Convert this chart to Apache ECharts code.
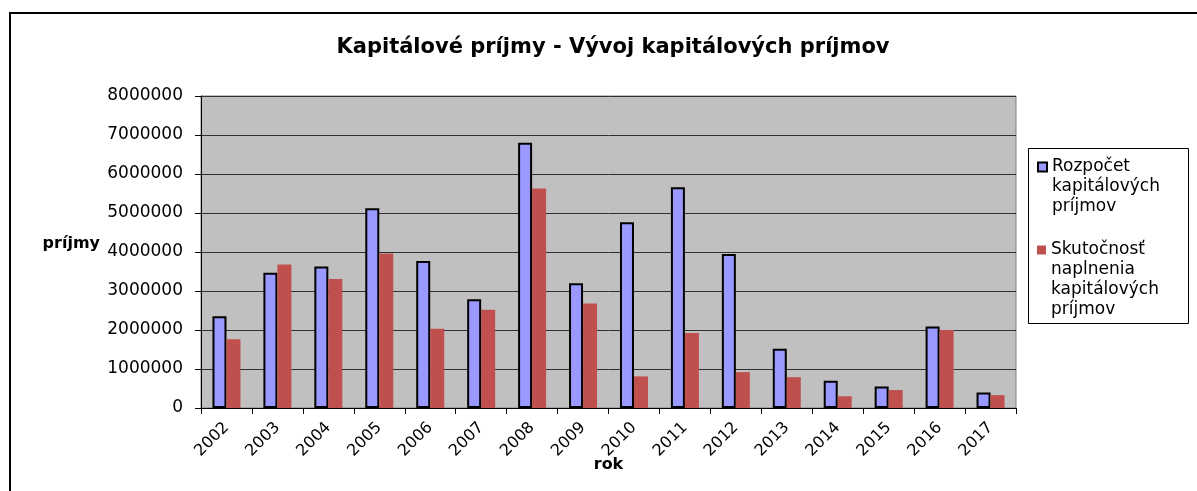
<!DOCTYPE html>
<html>
<head>
<meta charset="utf-8">
<script src="https://cdn.jsdelivr.net/npm/echarts@6/dist/echarts.min.js"></script>
<style>
    html, body {margin:0;padding:0;background:#ffffff;}
    #chart {width:1197px;height:491px;}
</style>
</head>
<body>
<div id="chart"></div>
<script>
    // roky
    var years = ['2002', '2003', '2004', '2005', '2006', '2007', '2008', '2009',
                 '2010', '2011', '2012', '2013', '2014', '2015', '2016', '2017'];
    // rozpočet kapitálových príjmov
    var budget = [2350000, 3470000, 3630000, 5120000, 3770000, 2790000, 6800000, 3200000,
                  4760000, 5660000, 3950000, 1520000, 700000, 550000, 2090000, 400000];
    // skutočnosť naplnenia
    var actual = [1760000, 3680000, 3310000, 3960000, 2030000, 2520000, 5630000, 2680000,
                  810000, 1920000, 920000, 790000, 300000, 460000, 2000000, 330000];

    var nameBudget = 'Rozpočet\nkapitálových\npríjmov';
    var nameActual = 'Skutočnosť\nnaplnenia\nkapitálových\npríjmov';

    var font = 'DejaVu Sans';

    // ikonka legendy má byť pri prvom riadku textu -> doplníme prázdne riadky pred text
    function legendText(name) {
        var n = name.split('\n').length;
        return new Array(n).join('\n') + name;
    }

    var chart = echarts.init(document.getElementById('chart'));

    var option = {
        animation: false,
        title: {
            text: 'Kapitálové príjmy - Vývoj kapitálových príjmov',
            left: 613,
            top: 37,
            textAlign: 'center',
            padding: 0,
            textStyle: {fontFamily: font, fontSize: 21, fontWeight: 'bold', color: '#000'}
        },
        legend: [
            {
                data: [nameBudget],
                orient: 'vertical',
                left: 1037,
                top: 117,
                padding: 0,
                icon: 'rect',
                itemWidth: 9,
                itemHeight: 9,
                formatter: legendText,
                textStyle: {fontFamily: font, fontSize: 17, lineHeight: 20, color: '#000'}
            },
            {
                data: [nameActual],
                orient: 'vertical',
                left: 1037,
                top: 180,
                padding: 0,
                icon: 'rect',
                itemWidth: 9,
                itemHeight: 9,
                formatter: legendText,
                textStyle: {fontFamily: font, fontSize: 17, lineHeight: 20, color: '#000'}
            }
        ],
        graphic: [
            {
                // rámček grafu
                type: 'rect',
                shape: {x: 10, y: 13, width: 1400, height: 700},
                style: {fill: 'none', stroke: '#000', lineWidth: 2},
                silent: true
            },
            {
                // rámček legendy
                type: 'rect',
                shape: {x: 1028.5, y: 148.5, width: 160, height: 175},
                style: {fill: 'none', stroke: '#000', lineWidth: 1},
                silent: true
            }
        ],
        grid: {
            left: 201,
            top: 96,
            right: 181,
            bottom: 83,
            show: true,
            backgroundColor: '#c0c0c0',
            borderColor: '#808080',
            borderWidth: 1
        },
        xAxis: {
            type: 'category',
            data: years,
            name: 'rok',
            nameLocation: 'middle',
            nameGap: 49,
            nameMoveOverlap: false,
            nameTextStyle: {fontFamily: font, fontSize: 16, fontWeight: 'bold', color: '#000'},
            axisLine: {lineStyle: {color: '#000', width: 1}},
            axisTick: {show: true, length: 6, lineStyle: {color: '#000'}},
            axisLabel: {rotate: 45, margin: 17, fontFamily: font, fontSize: 16, color: '#000'}
        },
        yAxis: {
            type: 'value',
            min: 0,
            max: 8000000,
            interval: 1000000,
            name: 'príjmy',
            nameLocation: 'middle',
            nameRotate: 0,
            nameGap: 101,
            nameMoveOverlap: false,
            nameTextStyle: {fontFamily: font, fontSize: 16, fontWeight: 'bold', color: '#000', align: 'right', verticalAlign: 'bottom'},
            axisLine: {show: true, lineStyle: {color: '#000', width: 1}},
            axisTick: {show: true, length: 6, lineStyle: {color: '#000'}},
            axisLabel: {
                margin: 18, fontFamily: font, fontSize: 17, color: '#000',
                formatter: function (v) { return String(v); }
            },
            splitLine: {lineStyle: {color: '#303030', width: 1}}
        },
        series: [
            {
                name: nameBudget,
                type: 'bar',
                data: budget,
                barWidth: 14,
                barGap: '0%',
                itemStyle: {color: '#9999ff', borderColor: '#000', borderWidth: 2}
            },
            {
                name: nameActual,
                type: 'bar',
                data: actual,
                barWidth: 14,
                itemStyle: {color: '#c0504d'}
            }
        ]
    };

    chart.setOption(option);
</script>
</body>
</html>
